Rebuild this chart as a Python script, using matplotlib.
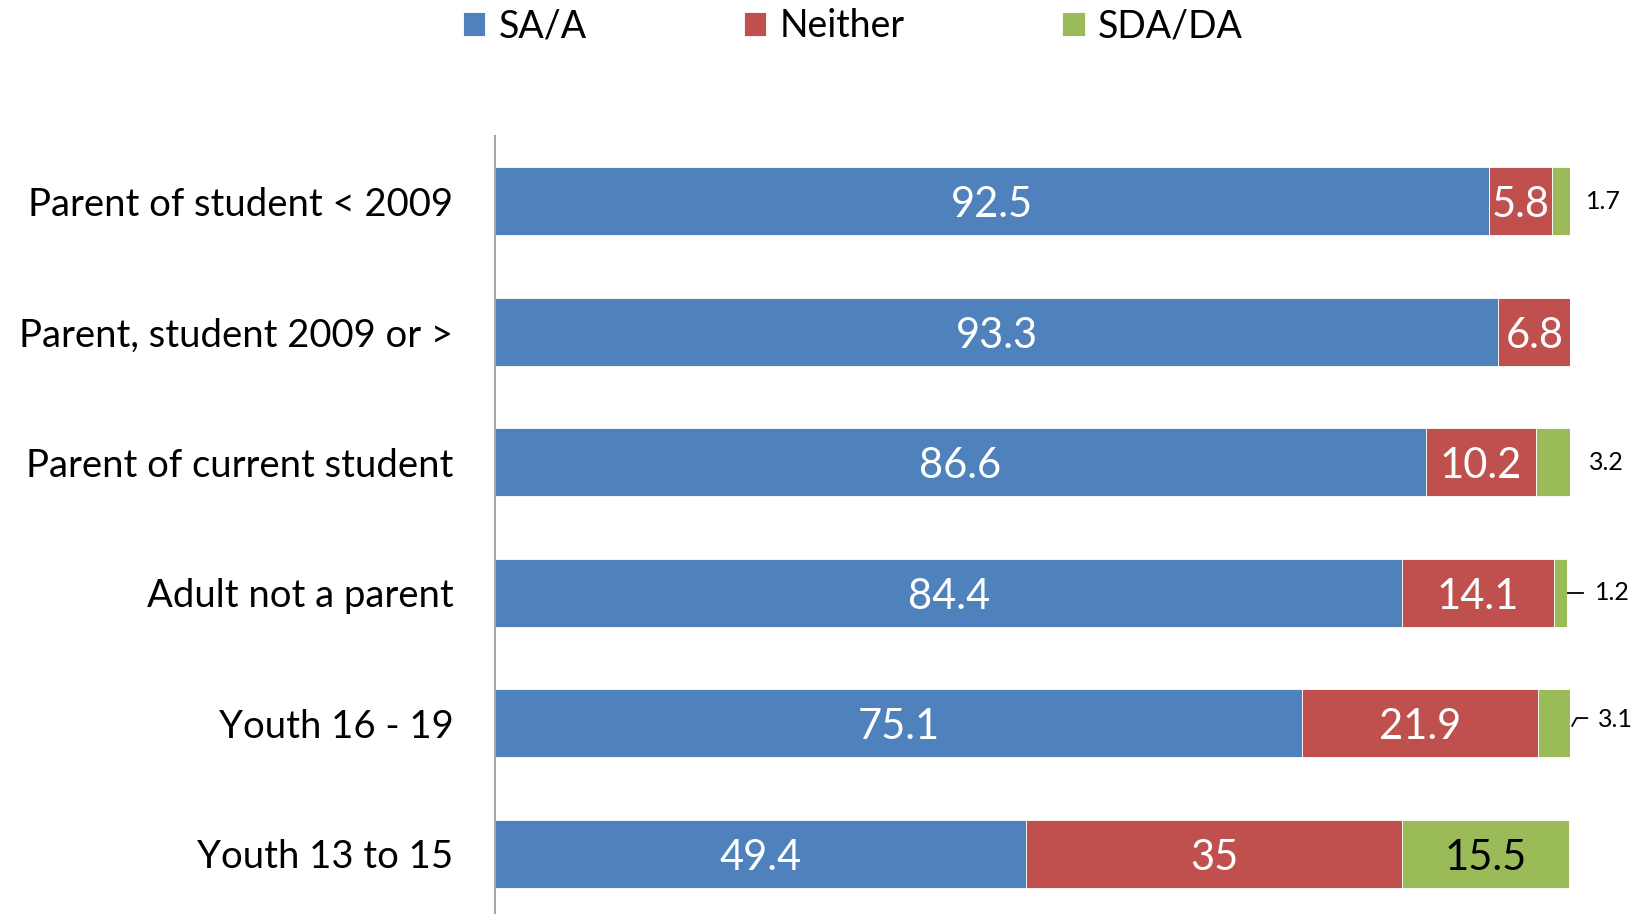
import matplotlib.pyplot as plt
import numpy as np

plt.rcParams['font.family'] = ['Lato', 'DejaVu Sans']

### DATA ###

categories = ['Parent of student < 2009', 'Parent, student 2009 or >',
              'Parent of current student', 'Adult not a parent',
              'Youth 16 - 19', 'Youth 13 to 15']
sa_a = [92.5, 93.3, 86.6, 84.4, 75.1, 49.4]
neither = [5.8, 6.8, 10.2, 14.1, 21.9, 35]
sda_da = [1.7, 0, 3.2, 1.2, 3.1, 15.5]
series_names = ['SA/A', 'Neither', 'SDA/DA']
colors = ['#4F81BD', '#C0504D', '#9BBB59']

### PLOT ###

fig = plt.figure(figsize=(16.43, 9.14), dpi=100)
ax = fig.add_axes([0.3013, -0.0055, 0.6543, 0.8567])

y = np.arange(len(categories))
left = np.zeros(len(categories))
bars = []
for vals, col, name in zip([sa_a, neither, sda_da], colors, series_names):
    vals = np.array(vals, dtype=float)
    b = ax.barh(y, vals, left=left, height=0.52, color=col,
                edgecolor='white', linewidth=0.6, label=name)
    bars.append(b)
    for i, v in enumerate(vals):
        if v >= 5:
            ax.text(left[i] + v / 2, y[i] + 0.03, f'{v:g}', ha='center', va='center',
                    color='white' if col != colors[2] else 'black', fontsize=30)
    left += vals

# small labels outside the bars, some with leader lines
small_x = {0: 103.1, 2: 103.4, 3: 103.9, 4: 104.2}
for i, v in enumerate(sda_da):
    if 0 < v < 5:
        end = left[i]
        if i == 3:
            ax.plot([end + 0.1, end + 1.5], [y[i], y[i]], color='black',
                    lw=1.3, clip_on=False)
        elif i == 4:
            ax.plot([end + 0.1, end + 0.5, end + 1.5],
                    [y[i] + 0.02, y[i] - 0.04, y[i] - 0.04], color='black',
                    lw=1.3, clip_on=False)
        ax.text(small_x[i], y[i] - (0.03 if i == 4 else 0), f'{v:g}',
                ha='center', va='center', fontsize=18)

ax.set_xlim(0, 100)
ax.set_ylim(5.5, -0.5)
ax.set_yticks(y)
ax.set_yticklabels(categories, fontsize=27.5)
ax.tick_params(axis='y', length=0, pad=30)
ax.set_xticks([])
for s in ['top', 'right', 'bottom']:
    ax.spines[s].set_visible(False)
ax.spines['left'].set_color('#A6A6A6')
ax.spines['left'].set_linewidth(1.5)

fig.legend(handles=bars, labels=series_names, loc='upper center',
           bbox_to_anchor=(0.519, 1.028), ncol=3, frameon=False, fontsize=27,
           handlelength=0.6, handleheight=0.6, handletextpad=0.35,
           columnspacing=4.2)

fig.savefig('out.png', dpi=100)
